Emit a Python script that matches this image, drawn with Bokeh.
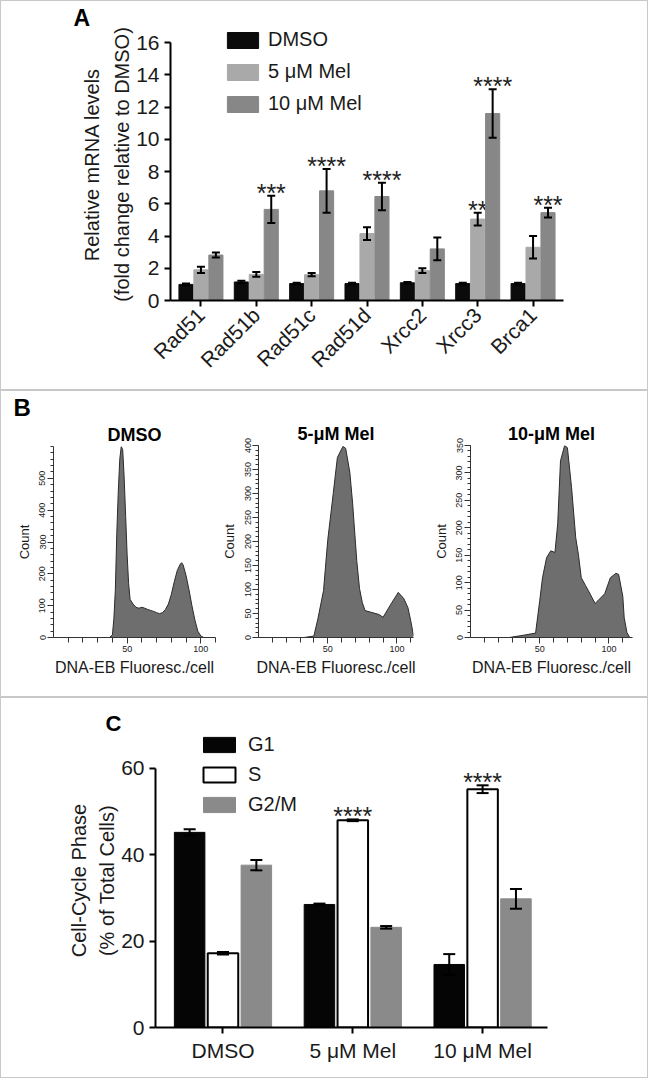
from bokeh.plotting import figure
from bokeh.models import (ColumnDataSource, Whisker, TeeHead, FixedTicker, Legend,
                          LegendItem, Title, Range1d)
from bokeh.layouts import column, row
from bokeh.core.properties import value
from bokeh.embed import file_html
from bokeh.resources import INLINE

FONT = "Liberation Sans"

# ---------------- Panel A data ----------------
genes = ["Rad51", "Rad51b", "Rad51c", "Rad51d", "Xrcc2", "Xrcc3", "Brca1"]
a_series = ["DMSO", "5 μM Mel", "10 μM Mel"]
a_dmso = [1.0, 1.15, 1.05, 1.05, 1.1, 1.05, 1.05]
a_dmso_err = [0.05, 0.08, 0.05, 0.05, 0.05, 0.05, 0.05]
a_mel5 = [1.9, 1.62, 1.6, 4.15, 1.85, 5.05, 3.3]
a_mel5_err = [0.2, 0.15, 0.1, 0.4, 0.15, 0.4, 0.7]
a_mel10 = [2.82, 5.65, 6.8, 6.45, 3.2, 11.6, 5.45]
a_mel10_err = [0.15, 0.85, 1.35, 0.85, 0.7, 1.5, 0.3]
a_sig5 = ["", "", "", "", "", "**", ""]
a_sig10 = ["", "***", "****", "****", "", "****", "***"]
a_yticks = [0, 2, 4, 6, 8, 10, 12, 14, 16]

# ---------------- Panel B data ----------------
b_titles = ["DMSO", "5-μM Mel", "10-μM Mel"]
dmso_fl = [0, 38, 40, 41, 42, 43, 44, 45, 46, 47, 48, 49, 50, 51, 52, 54, 56, 58, 60, 62,
           64, 66, 68, 70, 72, 74, 76, 78, 80, 82, 84, 86, 87, 88, 90, 92, 94, 96, 98, 100,
           102, 110]
dmso_ct = [0, 0, 8, 60, 150, 330, 460, 560, 600, 590, 500, 380, 260, 170, 120, 105, 95, 92,
           95, 92, 88, 85, 82, 78, 75, 78, 88, 105, 135, 175, 210, 230, 235, 228, 195, 150,
           100, 55, 20, 5, 0, 0]
mel5_fl = [0, 33, 40, 43, 47, 50, 54, 57, 61, 63, 66, 68, 71, 73, 75, 77, 82, 87, 90, 96,
           101, 105, 108, 110, 112]
mel5_ct = [0, 0, 3, 40, 98, 202, 300, 375, 398, 394, 344, 280, 160, 102, 73, 56, 52, 48, 42,
           71, 94, 81, 62, 35, 4]
mel10_fl = [0, 28, 38, 47, 50, 52, 55, 58, 61, 63, 65, 68, 70, 73, 76, 78, 80, 83, 85, 90,
            92, 97, 101, 105, 107, 110, 111, 113, 115, 117]
mel10_ct = [0, 0, 4, 8, 67, 109, 146, 158, 155, 208, 322, 350, 346, 273, 182, 150, 109, 95,
            86, 62, 67, 80, 109, 117, 115, 75, 36, 9, 0, 0]
dmso_yticks = [0, 100, 200, 300, 400, 500]
mel5_yticks = [0, 50, 100, 150, 200, 250, 300, 350, 400]
mel10_yticks = [0, 50, 100, 150, 200, 250, 300, 350]
b_xticks = [50, 100]

# ---------------- Panel C data ----------------
c_groups = ["DMSO", "5 μM Mel", "10 μM Mel"]
c_phases = ["G1", "S", "G2/M"]
c_g1 = [45.2, 28.5, 14.6]
c_g1_err = [0.7, 0.2, 2.4]
c_s = [17.2, 48.0, 55.2]
c_s_err = [0.3, 0.2, 0.9]
c_g2m = [37.6, 23.2, 29.8]
c_g2m_err = [1.2, 0.3, 2.3]
c_sig_g1 = ["", "", ""]
c_sig_s = ["", "****", "****"]
c_sig_g2m = ["", "", ""]
c_yticks = [0, 20, 40, 60]


def style_axis(ax, size, lw=2, color="black"):
    ax.axis_line_width = lw
    ax.axis_line_color = color
    ax.major_tick_line_width = lw
    ax.major_tick_line_color = color
    ax.major_tick_out = 6
    ax.major_tick_in = 0
    ax.minor_tick_line_color = None
    ax.major_label_text_font = FONT
    ax.major_label_text_font_size = size
    ax.major_label_text_color = "#1a1a1a"
    ax.axis_label_text_font = FONT
    ax.axis_label_text_font_style = "normal"
    ax.axis_label_text_color = "#1a1a1a"


def add_title(p, text, size, align, offset, standoff):
    p.add_layout(Title(text=text, align=align, offset=offset, standoff=standoff,
                       text_font=FONT, text_font_size=size, text_font_style="bold",
                       text_color="black"), "above")


def grouped_bars(p, values, errors, colors, line_colors, line_widths, offsets, width, head,
                 sigs, legend_names):
    items = []
    for k in range(len(values)):
        n = len(values[k])
        xs = [i + offsets[k] for i in range(n)]
        up = [v + e for v, e in zip(values[k], errors[k])]
        lo = [v - e for v, e in zip(values[k], errors[k])]
        src = ColumnDataSource(dict(x=xs, top=values[k], upper=up, lower=lo))
        r = p.vbar(x="x", top="top", width=width, source=src, fill_color=colors[k],
                   line_color=line_colors[k], line_width=line_widths[k])
        items.append(LegendItem(label=legend_names[k], renderers=[r]))
        w = Whisker(base="x", upper="upper", lower="lower", source=src, line_width=2,
                    line_color="black",
                    upper_head=TeeHead(size=head, line_width=2, line_color="black"),
                    lower_head=TeeHead(size=head, line_width=2, line_color="black"),
                    level="annotation")
        p.add_layout(w)
        sx = [xs[i] for i in range(n) if sigs[k][i]]
        sy = [up[i] for i in range(n) if sigs[k][i]]
        st = [sigs[k][i] for i in range(n) if sigs[k][i]]
        if st:
            p.text(x=sx, y=sy, text=st, text_align="center", text_baseline="middle",
                   y_offset=-3, text_font=value(FONT), text_font_size="25px",
                   text_color="#222222")
    return items


# ================= Panel A =================
pA = figure(width=646, height=388, x_range=Range1d(-0.55, 6.55), y_range=Range1d(0, 16.87),
            output_backend="svg", toolbar_location=None, title=None,
            min_border_left=169, min_border_right=84, min_border_top=27, min_border_bottom=89)
pA.frame_align = False
pA.outline_line_color = None
pA.grid.visible = False
itemsA = grouped_bars(pA, [a_dmso, a_mel5, a_mel10], [a_dmso_err, a_mel5_err, a_mel10_err],
                      ["#0b0b0b", "#a9a9a9", "#878787"], ["#0b0b0b", "#a9a9a9", "#878787"],
                      [1, 1, 1], [-0.27, 0.0, 0.27], 0.255, 8,
                      [[""] * 7, a_sig5, a_sig10], a_series)
style_axis(pA.xaxis[0], "21px")
style_axis(pA.yaxis[0], "21px")
pA.xaxis.ticker = FixedTicker(ticks=list(range(len(genes))))
pA.xaxis.major_label_overrides = {i: g for i, g in enumerate(genes)}
pA.xaxis.major_label_orientation = 0.785398
pA.yaxis.ticker = FixedTicker(ticks=a_yticks)
pA.yaxis.bounds = (0, 16)
pA.yaxis.axis_label = "Relative mRNA levels\n(fold change relative to DMSO)"
pA.yaxis.axis_label_text_font_size = "20px"
pA.yaxis.axis_label_text_line_height = 1.35
pA.yaxis.axis_label_standoff = 0
legA = Legend(items=itemsA, location=(53, 185), border_line_color=None,
              background_fill_alpha=0, padding=0, margin=0, spacing=9,
              glyph_width=39, glyph_height=20, label_height=20, label_standoff=6,
              label_text_font=FONT, label_text_font_size="20px", label_text_color="#1a1a1a")
pA.add_layout(legA)
add_title(pA, "A", "23px", "left", -97, -5)


# ================= Panel B =================
def hist_fig(title, fl, ct, xmax, ymax, yticks, yminor, width, mbl, mbr, toff, letter=None):
    p = figure(width=width, height=305, x_range=Range1d(0, xmax), y_range=Range1d(0, ymax),
               output_backend="svg", toolbar_location=None, title=None,
               min_border_left=mbl, min_border_right=mbr, min_border_top=54, min_border_bottom=59)
    p.frame_align = False
    p.outline_line_color = None
    p.grid.visible = False
    p.varea(x=fl, y1=0, y2=ct, fill_color="#6e6e6e")
    p.line(x=fl, y=ct, line_color="#2b2b2b", line_width=1)
    for ax in (p.xaxis[0], p.yaxis[0]):
        style_axis(ax, "9px", lw=1, color="#333333")
        ax.minor_tick_line_color = "#333333"
        ax.minor_tick_line_width = 1
        ax.major_label_standoff = 2
    p.yaxis.ticker = FixedTicker(ticks=yticks, minor_ticks=yminor)
    p.yaxis.major_tick_out = 6
    p.yaxis.minor_tick_out = 3
    p.yaxis.minor_tick_in = 0
    p.yaxis.major_label_orientation = "vertical"
    p.yaxis.axis_label = "Count"
    p.yaxis.axis_label_text_font_size = "13px"
    p.yaxis.axis_label_standoff = 5
    p.xaxis.ticker = FixedTicker(ticks=b_xticks, minor_ticks=list(range(10, int(xmax) + 1, 10)))
    p.xaxis.major_tick_out = 6
    p.xaxis.minor_tick_out = 5
    p.xaxis.minor_tick_in = 0
    p.xaxis.axis_label = "DNA-EB Fluoresc./cell"
    p.xaxis.axis_label_text_font_size = "16px"
    p.xaxis.axis_label_standoff = 4
    add_title(p, title, "18px", "center", toff, 4)
    if letter:
        add_title(p, letter, "24px", "left", -40, 0)
    return p


b1 = hist_fig(b_titles[0], dmso_fl, dmso_ct, 110, 600, dmso_yticks, list(range(0, 601, 20)),
              217, 52, 3, -12, letter="B")
b2 = hist_fig(b_titles[1], mel5_fl, mel5_ct, 112, 400, mel5_yticks, list(range(0, 401, 10)),
              212, 35, 17, 5)
b3 = hist_fig(b_titles[2], mel10_fl, mel10_ct, 117, 350, mel10_yticks, list(range(0, 351, 10)),
              217, 35, 15, 5)

# ================= Panel C =================
pC = figure(width=646, height=379, x_range=Range1d(-0.52, 2.5), y_range=Range1d(0, 68.1),
            output_backend="svg", toolbar_location=None, title=None,
            min_border_left=154, min_border_right=100, min_border_top=35, min_border_bottom=50)
pC.frame_align = False
pC.outline_line_color = None
pC.grid.visible = False
itemsC = grouped_bars(pC, [c_g1, c_s, c_g2m], [c_g1_err, c_s_err, c_g2m_err],
                      ["#050505", "white", "#8a8a8a"], ["#050505", "black", "#8a8a8a"],
                      [1, 2, 1], [-0.257, 0.0, 0.257], 0.235, 12,
                      [c_sig_g1, c_sig_s, c_sig_g2m], c_phases)
style_axis(pC.xaxis[0], "21px")
style_axis(pC.yaxis[0], "21px")
pC.xaxis.ticker = FixedTicker(ticks=list(range(len(c_groups))))
pC.xaxis.major_label_overrides = {i: g for i, g in enumerate(c_groups)}
pC.yaxis.ticker = FixedTicker(ticks=c_yticks)
pC.yaxis.bounds = (0, 60)
pC.yaxis.axis_label = "Cell-Cycle Phase\n(% of Total Cells)"
pC.yaxis.axis_label_text_font_size = "20px"
pC.yaxis.axis_label_text_line_height = 1.3
pC.yaxis.axis_label_standoff = 0
legC = Legend(items=itemsC, location=(44, 211), border_line_color=None,
              background_fill_alpha=0, padding=0, margin=0, spacing=7,
              glyph_width=40, glyph_height=19, label_height=19, label_standoff=9,
              label_text_font=FONT, label_text_font_size="20px", label_text_color="#1a1a1a")
pC.add_layout(legC)
add_title(pC, "C", "22px", "left", -50, -4)

rowB = row(b1, b2, b3, styles={"border-top": "2px solid #c8c8c8",
                               "border-bottom": "2px solid #c8c8c8"})
layout = column(pA, rowB, pC, styles={"border": "1px solid #c8c8c8"})
open("out.html", "w").write(file_html(layout, INLINE))
